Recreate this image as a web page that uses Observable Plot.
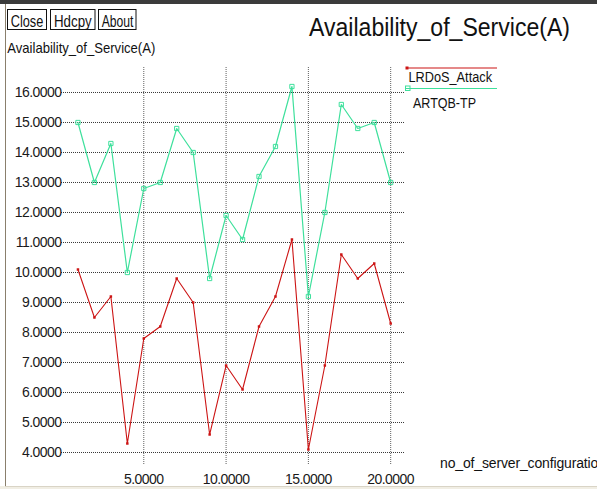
<!DOCTYPE html>
<html>
<head>
<meta charset="utf-8">
<script src="https://cdn.jsdelivr.net/npm/d3@7"></script>
<script src="https://cdn.jsdelivr.net/npm/@observablehq/plot@0.6"></script>
<style>
  html, body { margin: 0; padding: 0; background: #fff; }
  #wrap { position: relative; width: 597px; height: 489px; overflow: hidden; background: #fff; }
  #wrap > svg { position: absolute; left: 0; top: 0; }
  #overlay { pointer-events: none; }
</style>
</head>
<body>
<div id="wrap"></div>
<script>
// ---- data ----
const configurations = [1, 2, 3, 4, 5, 6, 7, 8, 9, 10, 11, 12, 13, 14, 15, 16, 17, 18, 19, 20];
const lrdosAttack = [10.1, 8.5, 9.2, 4.3, 7.8, 8.2, 9.8, 9.0, 4.6, 6.9, 6.1, 8.2, 9.2, 11.1, 4.1, 6.9, 10.6, 9.8, 10.3, 8.3];
const artqbTp = [15.0, 13.0, 14.3, 10.0, 12.8, 13.0, 14.8, 14.0, 9.8, 11.9, 11.1, 13.2, 14.2, 16.2, 9.2, 12.0, 15.6, 14.8, 15.0, 13.0];
const yTicks = [4, 5, 6, 7, 8, 9, 10, 11, 12, 13, 14, 15, 16];
const xTicks = [5, 10, 15, 20];
const seriesNames = ["LRDoS_Attack", "ARTQB-TP"];
const titleText = "Availability_of_Service(A)";
const yLabel = "Availability_of_Service(A)";
const xLabel = "no_of_server_configuration";
const buttons = ["Close", "Hdcpy", "About"];

const RED = "#cc1414";
const GREEN = "#3ee09c";

const rows = configurations.map((c, i) => ({x: c, red: lrdosAttack[i], green: artqbTp[i]}));
const fmt = d3.format(".4f");

const chart = Plot.plot({
  width: 597,
  height: 489,
  marginLeft: 61,
  marginRight: 192,
  marginTop: 67,
  marginBottom: 24,
  x: {domain: [0, 20.9]},
  y: {domain: [3.567, 16.833]},
  style: {fontFamily: "'Liberation Sans', Arial, sans-serif", fontSize: "14px", color: "#1a1a1a", background: "transparent", letterSpacing: "-0.55px"},
  marks: [
    Plot.ruleY(yTicks, {stroke: "#222", strokeDasharray: "1,1", strokeOpacity: 0.9}),
    Plot.ruleX(xTicks, {stroke: "#444", strokeDasharray: "1,1", strokeOpacity: 0.85}),
    Plot.axisY({ticks: yTicks, tickSize: 0, tickPadding: 0, tickFormat: fmt, label: null}),
    Plot.axisX({ticks: xTicks, tickSize: 0, tickPadding: 9, tickFormat: fmt, label: null}),
    Plot.line(rows, {x: "x", y: "red", stroke: RED, strokeWidth: 1.1}),
    Plot.dot(rows, {x: "x", y: "red", symbol: "square", r: 1.4, fill: RED, stroke: "none"}),
    Plot.line(rows, {x: "x", y: "green", stroke: GREEN, strokeWidth: 1.2}),
    Plot.dot(rows, {x: "x", y: "green", symbol: "square", r: 2.4, fill: "none", stroke: GREEN, strokeWidth: 1})
  ]
});
const wrap = document.getElementById("wrap");
wrap.appendChild(chart);

// ---- overlay: window frame, buttons, titles, legend ----
const ov = d3.select(wrap).append("svg").attr("id", "overlay")
  .attr("width", 597).attr("height", 489)
  .style("font-family", "'Liberation Sans', Arial, sans-serif");

ov.append("rect").attr("x", 0).attr("y", 0).attr("width", 597).attr("height", 4).attr("fill", "#3b3b3b");
ov.append("line").attr("x1", 5.5).attr("x2", 5.5).attr("y1", 4).attr("y2", 486).attr("stroke", "#8a7f6c");
ov.append("rect").attr("x", 0).attr("y", 486).attr("width", 597).attr("height", 3).attr("fill", "#f1eee4");
ov.append("line").attr("x1", 5).attr("x2", 597).attr("y1", 486.5).attr("y2", 486.5).attr("stroke", "#d9d4c6");

function txt(s, x, y, size, len, anchor) {
  const t = ov.append("text").attr("x", x).attr("y", y).attr("font-size", size).attr("fill", "#111").text(s);
  if (len) t.attr("textLength", len).attr("lengthAdjust", "spacingAndGlyphs");
  if (anchor) t.attr("text-anchor", anchor);
  return t;
}

// buttons
const btnBoxes = [[7, 47], [50, 95.5], [98, 136.5]];
const btnText = [[10.7, 32.6], [54, 37.7], [101.7, 31.7]];
buttons.forEach((b, i) => {
  const [x0, x1] = btnBoxes[i];
  ov.append("rect").attr("x", x0 + 0.5).attr("y", 9.5).attr("width", x1 - x0 - 1).attr("height", 20)
    .attr("fill", "#fff").attr("stroke", "#111");
  txt(b, btnText[i][0], 26.5, 16, btnText[i][1]);
});

txt(titleText, 309, 35.5, 25, 261);
txt(yLabel, 7.3, 53, 15, 148);
txt(xLabel, 440, 467.5, 14, null).attr("letter-spacing", "-0.15px");

// legend
const legendColors = [RED, GREEN];
const legendLineY = [68, 88.5];
const legendText = [[408.5, 81.5, 83.5], [413, 108.3, 63]];
seriesNames.forEach((name, i) => {
  ov.append("line").attr("x1", 406).attr("x2", 497).attr("y1", legendLineY[i]).attr("y2", legendLineY[i])
    .attr("stroke", legendColors[i]).attr("stroke-width", 1.2);
  if (i === 0) {
    ov.append("rect").attr("x", 405.5).attr("y", legendLineY[i] - 1.5).attr("width", 3).attr("height", 3).attr("fill", RED);
  } else {
    ov.append("rect").attr("x", 405.5).attr("y", legendLineY[i] - 2.5).attr("width", 4.5).attr("height", 4.5)
      .attr("fill", "none").attr("stroke", GREEN);
  }
  txt(name, legendText[i][0], legendText[i][1], 14, legendText[i][2]);
});
</script>
</body>
</html>
